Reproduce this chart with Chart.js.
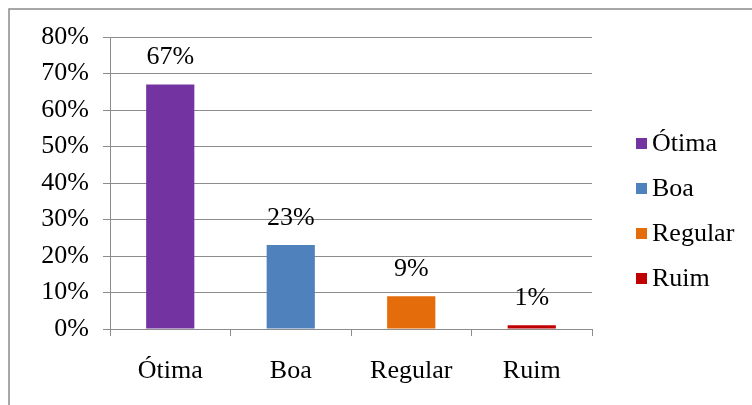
<!DOCTYPE html>
<html>
<head>
<meta charset="utf-8">
<script src="https://cdn.jsdelivr.net/npm/chart.js@4"></script>
<style>
  html, body { margin: 0; padding: 0; background: #fff; }
  #wrap { width: 752px; height: 405px; position: relative; }
</style>
</head>
<body>
<div id="wrap"><canvas id="c" width="752" height="405"></canvas></div>
<script>
const categories = ['Ótima', 'Boa', 'Regular', 'Ruim'];
const values = [67, 23, 9, 1];
const colors = ['#7334A1', '#4F81BD', '#E46C0A', '#C00000'];
const yTicks = [0, 10, 20, 30, 40, 50, 60, 70, 80];

const FONT = '"Liberation Serif", "Times New Roman", serif';
const FSIZE = 26;
const GRID = '#8c8c8c';

// Frame around the whole chart (left and top edges visible)
const framePlugin = {
  id: 'frame',
  beforeDraw(chart) {
    const ctx = chart.ctx;
    ctx.save();
    ctx.strokeStyle = '#8a8a8a';
    ctx.lineWidth = 1.5;
    ctx.beginPath();
    ctx.moveTo(9, 420);
    ctx.lineTo(9, 9);
    ctx.lineTo(770, 9);
    ctx.stroke();
    ctx.restore();
  }
};

// Percent labels above each bar
const valueLabels = {
  id: 'valueLabels',
  afterDatasetsDraw(chart) {
    const ctx = chart.ctx;
    const meta = chart.getDatasetMeta(0);
    ctx.save();
    ctx.font = FSIZE + 'px ' + FONT;
    ctx.fillStyle = '#000';
    ctx.textAlign = 'center';
    ctx.textBaseline = 'middle';
    meta.data.forEach((bar, i) => {
      ctx.fillText(values[i] + '%', bar.x, bar.y - 27);
    });
    ctx.restore();
  }
};

// Legend at the right: one square per category
const sideLegend = {
  id: 'sideLegend',
  afterDraw(chart) {
    const ctx = chart.ctx;
    ctx.save();
    ctx.font = FSIZE + 'px ' + FONT;
    ctx.textBaseline = 'middle';
    ctx.textAlign = 'left';
    const top = 143, step = 45;
    categories.forEach((name, i) => {
      const cy = top + i * step;
      ctx.fillStyle = colors[i];
      ctx.fillRect(636, cy - 5, 11, 11);
      ctx.fillStyle = '#000';
      ctx.fillText(name, 652, cy + 1);
    });
    ctx.restore();
  }
};

new Chart(document.getElementById('c'), {
  type: 'bar',
  data: {
    labels: categories,
    datasets: [{
      data: values,
      backgroundColor: colors,
      borderWidth: 0,
      barPercentage: 0.4,
      categoryPercentage: 1.0
    }]
  },
  options: {
    responsive: false,
    animation: false,
    layout: { padding: { left: 0, top: 37, right: 160, bottom: 0 } },
    plugins: { legend: { display: false }, tooltip: { enabled: false } },
    scales: {
      x: {
        offset: true,
        grid: { display: true, drawOnChartArea: false, drawTicks: true, tickLength: 7, color: GRID, offset: true },
        border: { display: true, color: GRID, width: 1 },
        ticks: { color: '#000', font: { family: FONT, size: FSIZE }, padding: 20 },
        afterFit(s) { s.height = 76; }
      },
      y: {
        min: 0, max: 80,
        afterBuildTicks(s) { s.ticks = yTicks.map(v => ({ value: v })); },
        grid: { color: GRID, tickLength: 7, drawTicks: true },
        border: { display: true, color: GRID, width: 1 },
        ticks: { color: '#000', font: { family: FONT, size: FSIZE }, padding: 14, callback: v => v + '%' },
        afterFit(s) { s.width = 110; }
      }
    }
  },
  plugins: [framePlugin, valueLabels, sideLegend]
});
</script>
</body>
</html>
